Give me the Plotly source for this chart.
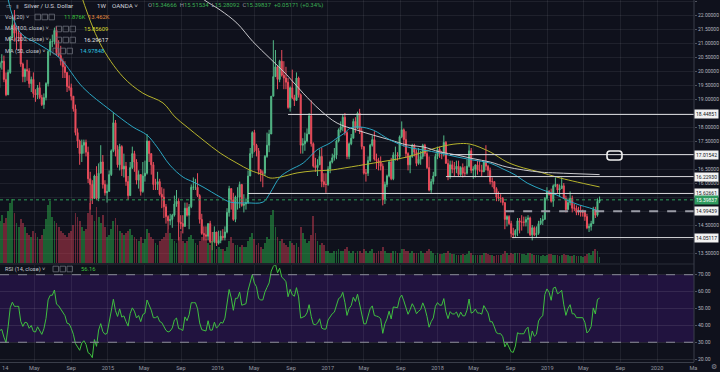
import numpy as np
import pandas as pd
import plotly.graph_objects as go

# ---------------- DATA (weekly XAG/USD) ----------------
first_open = 21.75
# (high, low, close) per week, weeks start Monday
wk2013 = [(22.05,21.10,21.72),(22.05,21.15,21.70),(22.20,21.05,21.95),(22.75,21.80,22.55),(22.70,21.65,21.87),
          (22.20,21.30,21.66),(21.80,20.60,20.82),(20.90,19.75,19.90),(20.05,19.65,19.87),(19.95,18.85,19.48),
          (20.35,19.40,19.90),(20.10,19.05,19.56),(20.05,19.45,19.90),(20.30,19.30,20.12)]
wk2014 = [(20.35,19.40,20.30),(20.60,20.05,20.35),(20.55,19.60,19.70),(19.95,19.10,19.15),
          (20.05,19.15,19.95),(21.25,19.90,21.20),(21.95,21.20,21.65),(22.18,21.05,21.35),
          (21.55,20.75,21.35),(21.60,21.05,21.35),(21.35,20.15,20.25),(20.30,19.60,19.80),(20.10,19.60,20.05),
          (20.40,19.65,20.00),(20.10,19.40,19.55),(19.80,19.25,19.70),(19.95,19.05,19.20),
          (19.35,18.90,19.15),(19.50,19.00,19.40),(19.60,19.00,19.05),(19.15,18.75,18.80),
          (19.20,18.65,19.05),(19.60,18.95,19.55),(20.75,19.45,20.70),(21.15,20.55,21.05),(21.30,20.85,21.05),
          (21.55,20.95,21.45),(21.60,20.55,20.65),(21.10,20.50,20.55),(20.90,20.20,20.35),
          (20.45,19.75,20.15),(20.35,19.75,19.95),(19.95,19.25,19.45),(19.85,19.30,19.40),
          (19.55,18.95,19.10),(19.10,18.55,18.65),(18.80,17.70,17.80),(17.95,17.25,17.50),(17.55,16.65,17.05),
          (17.55,16.75,17.35),(17.55,17.05,17.45),(17.55,16.95,17.10),(17.30,16.00,16.15),
          (16.40,15.05,15.95),(16.10,15.25,15.45),(16.30,15.45,16.25),(16.60,15.40,15.45),
          (16.70,15.35,16.35),(17.35,16.35,16.75),(17.00,15.80,15.95),(16.10,15.55,15.65),(15.95,15.30,15.70)]
wk2015 = [(16.45,15.70,16.30),(17.20,16.25,17.15),(18.50,17.10,18.15),(18.25,16.95,17.20),
          (17.35,16.55,16.65),(17.40,16.45,17.30),(17.35,16.25,16.50),(17.05,16.20,16.60),
          (16.75,15.90,16.05),(16.25,15.40,15.55),(16.75,15.55,16.55),(17.30,16.50,17.05),(17.15,16.40,16.75),
          (16.85,15.95,16.10),(16.45,15.80,16.30),(16.25,15.55,15.70),(16.75,15.65,16.25),
          (16.80,16.05,16.35),(17.75,16.30,17.50),(17.50,16.75,17.05),(17.05,16.30,16.65),
          (16.75,15.75,15.95),(16.15,15.75,15.95),(16.40,15.75,16.05),(16.15,15.55,15.60),(15.85,15.10,15.50),
          (15.80,14.75,15.15),(15.25,14.55,14.80),(14.85,14.35,14.65),(14.90,14.50,14.70),
          (14.90,14.40,14.85),(15.55,14.80,15.25),(15.75,15.15,15.35),(15.45,13.95,14.60),(14.85,14.35,14.55),
          (14.85,14.20,14.45),(15.30,14.45,15.10),(15.30,14.80,14.85),(15.25,14.35,15.15),
          (15.95,15.10,15.85),(16.20,15.75,15.85),(16.15,15.75,15.85),(16.35,15.50,15.55),
          (15.60,14.55,14.70),(14.90,14.15,14.20),(14.45,13.95,14.15),(14.45,13.95,14.10),(14.55,13.95,14.55),
          (14.65,13.85,13.90),(14.25,13.60,13.90),(14.45,13.85,14.25),(14.20,13.75,13.85)]
wk2016 = [(14.30,13.80,13.95),(14.30,13.85,14.10),(14.35,13.95,14.05),(14.45,13.95,14.25),
          (15.10,14.20,14.95),(15.90,14.80,15.80),(15.75,15.05,15.40),(15.65,14.65,14.70),(15.55,14.60,15.50),
          (15.85,15.05,15.50),(16.05,15.10,15.95),(15.95,15.15,15.20),(15.60,14.95,15.25),
          (15.45,15.05,15.30),(16.45,15.25,16.25),(17.25,16.25,17.05),(17.85,16.90,17.80),
          (17.90,17.10,17.35),(17.40,16.95,17.15),(17.25,16.30,16.45),(16.50,16.05,16.35),(16.45,15.85,16.35),
          (17.00,16.25,16.95),(17.80,16.90,17.35),(17.90,17.10,17.75),(19.10,17.75,19.10),
          (21.10,19.10,19.80),(20.75,19.85,20.15),(20.20,19.35,19.70),(20.40,19.60,20.35),
          (20.75,19.80,19.85),(20.35,19.35,19.75),(20.15,19.35,19.60),(19.75,18.65,18.70),(19.45,18.55,19.40),
          (20.05,19.00,19.05),(19.15,18.75,18.95),(19.95,19.00,19.75),(19.80,19.05,19.15),
          (19.20,17.05,17.35),(17.60,17.05,17.40),(17.80,17.15,17.50),(17.95,17.45,17.75),(18.50,17.75,18.40),
          (18.95,17.30,17.40),(17.45,16.55,16.60),(16.90,16.40,16.55),(16.85,16.25,16.65),
          (17.20,16.65,16.95),(17.25,15.85,16.05),(16.35,15.85,15.95),(16.35,15.65,15.95)]
wk2017 = [(16.60,15.90,16.50),(16.80,16.35,16.75),(17.05,16.70,16.90),(17.25,16.80,17.00),(17.55,16.85,17.50),
          (17.95,17.45,17.90),(18.20,17.80,18.00),(18.45,17.85,18.35),(18.50,17.70,17.80),
          (17.85,16.85,16.95),(17.45,16.85,17.40),(17.75,17.35,17.60),(18.30,17.60,18.20),
          (18.35,17.80,17.95),(18.55,17.95,18.50),(18.65,17.75,17.85),(18.00,17.20,17.30),
          (17.30,16.30,16.35),(16.50,16.05,16.35),(16.95,16.25,16.80),(17.40,16.75,17.35),(17.70,17.30,17.55),
          (17.85,16.80,16.85),(17.05,16.50,16.80),(16.90,16.45,16.75),(16.95,16.45,16.60),
          (16.70,15.20,15.40),(16.05,15.25,15.95),(16.30,15.85,16.25),(16.80,16.20,16.75),(16.90,16.10,16.15),
          (17.10,16.10,17.00),(17.30,16.80,17.00),(17.10,16.80,16.95),(17.70,16.85,17.65),
          (18.20,17.60,17.90),(17.95,17.30,17.55),(17.85,16.90,17.05),(17.10,16.45,16.65),
          (17.00,16.35,16.95),(17.40,16.90,17.35),(17.40,16.95,17.10),(17.20,16.60,16.70),(17.25,16.65,16.85),
          (17.15,16.65,16.95),(17.40,16.85,17.35),(17.40,16.95,17.05),(17.20,16.50,16.55),
          (16.95,15.70,15.75),(16.15,15.65,16.05),(16.40,15.95,16.25),(17.05,16.25,16.95)]
wk2018 = [(17.30,16.85,17.20),(17.30,16.90,17.05),(17.15,16.85,17.05),(17.70,16.95,17.45),(17.50,16.70,16.70),
          (16.85,16.10,16.25),(16.80,16.15,16.65),(16.80,16.35,16.50),(16.75,16.25,16.50),
          (16.80,16.35,16.60),(16.80,16.25,16.30),(16.60,16.25,16.55),(16.70,16.20,16.35),
          (16.60,16.25,16.35),(16.85,16.30,16.60),(17.35,16.55,17.15),(17.25,16.35,16.45),(16.60,16.15,16.50),
          (16.65,16.20,16.65),(16.80,16.30,16.45),(16.80,16.40,16.45),(16.65,16.25,16.40),
          (16.80,16.40,16.75),(17.35,16.45,16.60),(16.65,16.25,16.45),(16.55,15.95,16.05),
          (16.20,15.85,16.05),(16.05,15.65,15.80),(15.85,15.35,15.50),(15.70,15.35,15.45),(15.60,15.30,15.45),
          (15.50,15.20,15.30),(15.30,14.35,14.70),(14.85,14.45,14.80),(14.85,14.50,14.55),
          (14.65,14.05,14.20),(14.40,14.03,14.15),(14.35,14.05,14.30),(14.75,14.10,14.65),
          (14.75,14.20,14.60),(14.85,14.30,14.60),(14.80,14.45,14.60),(14.80,14.45,14.70),(14.85,14.20,14.75),
          (14.80,14.10,14.15),(14.50,13.95,14.40),(14.45,14.10,14.15),(14.45,14.05,14.20),
          (14.65,14.15,14.55),(14.75,14.50,14.65),(14.85,14.50,14.70),(15.50,14.70,15.45),(15.85,15.45,15.70)]
wk2019 = [(15.75,15.55,15.60),(15.80,15.30,15.35),(15.95,15.15,15.90),(16.20,15.85,15.95),
          (15.95,15.65,15.75),(15.95,15.50,15.80),(16.20,15.80,15.90),(16.00,15.45,15.45),
          (15.55,14.95,15.05),(15.45,15.05,15.30),(15.70,15.20,15.45),(15.55,14.95,15.10),
          (15.25,15.00,15.10),(15.20,14.85,14.95),(15.15,14.85,14.95),(15.20,14.80,14.95),(15.05,14.80,14.95),
          (14.95,14.65,14.80),(14.90,14.35,14.40),(14.55,14.25,14.45),(14.65,14.30,14.55),
          (15.15,14.55,15.05),(15.15,14.75,14.85),(15.45,14.80,15.3467),(15.5153,15.2809,15.3984)]

# weekly volume (K)
vol2013 = [40,38,42,45,40,38,44,46,40,42,38,40,28,36]
vol2014 = [42,48,40,45,52,60,64,50,40,36,44,40,36,
           30,28,26,32,30,26,24,28,34,44,58,62,46,
           42,40,36,32,30,28,26,30,32,38,50,46,42,
           36,32,34,50,60,48,42,56,46,40,48,36,26]
vol2015 = [28,34,42,45,38,32,30,28,30,32,34,28,26,
           24,22,26,20,24,34,30,26,24,20,18,22,24,
           26,30,34,30,24,22,20,26,32,22,20,22,26,
           28,24,20,18,22,26,30,24,20,18,22,20,14]
vol2016 = [16,14,14,12,16,22,26,20,18,18,16,18,16,
           16,22,26,30,24,18,20,16,14,20,26,24,48,
           53,36,26,22,24,20,18,16,22,20,18,20,16,
           36,30,24,20,22,28,47,30,22,18,20,18,12]
vol2017 = [12,10,10,12,12,14,12,12,14,16,12,10,12,
           10,12,12,10,14,12,10,12,14,10,10,12,12,
           16,12,10,10,10,12,12,10,10,14,14,12,12,
           10,12,10,10,10,12,10,10,12,14,12,10,8]
vol2018 = [10,9,9,10,10,12,10,9,9,8,8,8,9,
           8,9,12,10,8,8,8,8,8,10,10,9,8,
           8,7,8,8,8,9,12,10,8,10,9,10,10,
           10,9,9,8,10,10,9,8,8,8,7,8,7,8]
vol2019 = [9,9,8,8,8,7,8,9,8,8,7,7,8,
           7,7,7,6,7,9,10,8,12,14,12,6]

# moving averages (date, value)
ma50_dates = ['2014-02-01','2014-03-14','2014-05-20','2014-07-25','2014-10-10','2015-01-08','2015-03-25',
              '2015-05-11','2015-06-13','2015-07-26','2015-09-08','2015-10-11','2015-11-13','2016-01-09',
              '2016-02-11','2016-04-07','2016-05-31','2016-06-23','2016-07-26','2016-08-28','2016-10-11',
              '2016-11-26','2017-01-09','2017-02-01','2017-02-27','2017-03-16','2017-04-18','2017-06-01',
              '2017-07-27','2017-09-22','2017-11-14','2018-01-09','2018-03-07','2018-04-29','2018-06-25',
              '2018-08-07','2018-09-16','2018-10-26','2018-12-18','2019-02-02','2019-03-07','2019-04-19',
              '2019-05-22','2019-06-24']
ma50_vals = [22.65,21.39,20.93,20.46,19.41,18.61,18.00,17.71,17.29,16.64,16.21,16.04,15.86,15.50,
             15.32,15.29,15.32,15.64,16.21,16.46,16.71,17.18,17.43,17.61,17.79,17.96,18.00,17.89,
             17.54,17.29,17.18,17.07,16.93,16.82,16.71,16.50,16.29,16.00,15.75,15.57,15.39,15.21,
             15.11,14.98]
ma100_dates = ['2014-09-25','2014-12-05','2015-02-20','2015-04-27','2015-07-03','2015-08-12','2015-09-21',
               '2015-11-13','2016-01-09','2016-03-05','2016-04-17','2016-05-31','2016-06-23','2016-07-26',
               '2016-09-21','2016-11-13','2017-01-09','2017-02-27','2017-06-01','2017-09-22','2018-01-09',
               '2018-03-07','2018-04-19','2018-06-25','2018-08-20','2018-10-13','2018-12-08','2019-02-02',
               '2019-03-27','2019-06-24']
ma100_vals = [23.00,21.00,19.79,19.21,18.86,18.36,18.00,17.54,17.07,16.71,16.46,16.29,16.18,16.21,
              16.36,16.43,16.46,16.54,16.71,16.93,17.29,17.40,17.39,17.11,16.75,16.54,16.39,16.21,
              16.07,15.86]
ma200_dates = ['2015-10-20','2015-11-17','2016-01-09','2016-03-05','2016-04-27','2016-06-23','2016-08-18',
               '2016-10-11','2016-12-06','2017-02-01','2017-04-08','2017-06-01','2017-07-27','2017-09-22',
               '2017-11-14','2018-01-09','2018-03-07','2018-04-29','2018-06-25','2018-08-20','2018-12-08',
               '2019-02-02','2019-06-24']
ma200_vals = [22.80,22.54,22.18,21.71,21.05,20.45,19.86,19.21,18.61,18.14,17.89,17.71,17.54,17.36,
              17.29,17.11,17.00,16.87,16.75,16.57,16.39,16.36,16.30]

# user-drawn horizontal levels (start date, price)
level_lines = [('2016-08-22', 18.44851), ('2018-02-12', 17.01542), ('2018-01-29', 16.22930),
               ('2016-04-11', 15.62661), ('2018-09-06', 14.05117)]
dashed_level = ('2018-08-14', 14.99439)
last_price = 15.39837

month_ticks = ['2014-05-01','2014-09-01','2015-01-01','2015-05-01','2015-09-01','2016-01-01','2016-05-01',
               '2016-09-01','2017-01-01','2017-05-01','2017-09-01','2018-01-01','2018-05-01','2018-09-01',
               '2019-01-01','2019-05-01','2019-09-01','2020-01-01','2020-05-01']
month_labels = ['May','Sep','2015','May','Sep','2016','May','Sep','2017','May','Sep','2018','May','Sep',
                '2019','May','Sep','2020','Ma']
price_ticks = [13.5,14.0,14.5,15.0,15.5,16.0,16.5,17.0,17.5,18.0,18.5,19.0,19.5,20.0,20.5,21.0,21.5,22.0,22.5]
price_hidden = [14.0,15.0,15.5,17.0,18.5]
rsi_ticks = [20,30,40,50,60,70]

# ---------------- BUILD ----------------
weeks = wk2013 + wk2014 + wk2015 + wk2016 + wk2017 + wk2018 + wk2019
vols = vol2013 + vol2014 + vol2015 + vol2016 + vol2017 + vol2018 + vol2019
dates = pd.date_range('2013-09-30', periods=len(weeks), freq='7D')
highs = [w[0] for w in weeks]
lows = [w[1] for w in weeks]
closes = [w[2] for w in weeks]
opens = [first_open] + closes[:-1]

# RSI(14, close), Wilder
c = np.array(closes)
d = np.diff(c)
up = np.clip(d, 0, None)
dn = np.clip(-d, 0, None)
n = 14
rsi = np.full(len(c), np.nan)
ag, al = up[:n].mean(), dn[:n].mean()
rsi[n] = 100 - 100 / (1 + ag / al)
for i in range(n, len(d)):
    ag = (ag * (n - 1) + up[i]) / n
    al = (al * (n - 1) + dn[i]) / n
    rsi[i + 1] = 100 - 100 / (1 + ag / al)

W, H = 720, 372
MR, MB = 26, 10
PW, PH = W - MR, H - MB


def px(x):
    return x / PW


def py(y):
    return 1 - y / PH


BG = '#0f111c'
UP = '#53b987'
DN = '#eb4d5c'
GRID = 'rgba(255,255,255,0.07)'
FONT = 'Roboto, Arial, sans-serif'
XR = ['2014-01-07', '2020-05-03']

fig = go.Figure()

vcol = ['rgba(40,160,70,0.55)' if cl >= op else 'rgba(200,60,80,0.50)' for op, cl in zip(opens, closes)]
fig.add_trace(go.Bar(x=dates, y=vols, marker=dict(color=vcol, line=dict(width=0)),
                     width=7 * 86400000 * 0.85, yaxis='y2', xaxis='x', hoverinfo='skip'))

fig.add_trace(go.Candlestick(x=dates, open=opens, high=highs, low=lows, close=closes,
                             increasing=dict(line=dict(color=UP, width=1), fillcolor=UP),
                             decreasing=dict(line=dict(color=DN, width=1), fillcolor=DN),
                             whiskerwidth=0, xaxis='x', yaxis='y'))

fig.add_trace(go.Scatter(x=pd.to_datetime(ma100_dates), y=ma100_vals, mode='lines',
                         line=dict(color='#b6b32c', width=1, shape='spline'), xaxis='x', yaxis='y'))
fig.add_trace(go.Scatter(x=pd.to_datetime(ma200_dates), y=ma200_vals, mode='lines',
                         line=dict(color='#c8c8cc', width=1, shape='spline'), xaxis='x', yaxis='y'))
fig.add_trace(go.Scatter(x=pd.to_datetime(ma50_dates), y=ma50_vals, mode='lines',
                         line=dict(color='#2aa6c2', width=1, shape='spline'), xaxis='x', yaxis='y'))

fig.add_trace(go.Scatter(x=dates, y=rsi, mode='lines', line=dict(color='#3fbf3f', width=1),
                         xaxis='x', yaxis='y3'))

shapes = []
# RSI band
shapes.append(dict(type='rect', xref='paper', yref='y3', x0=0, x1=1, y0=30, y1=70,
                   fillcolor='#21133f', line=dict(width=0), layer='below'))
for lv in (70, 30):
    shapes.append(dict(type='line', xref='paper', yref='y3', x0=0, x1=1, y0=lv, y1=lv,
                       line=dict(color='#8a8c99', width=1, dash='dash')))
# user levels
for sd, pv in level_lines:
    shapes.append(dict(type='line', xref='x', yref='y', x0=sd, x1=XR[1], y0=pv, y1=pv,
                       line=dict(color='#d8d8dc', width=1)))
shapes.append(dict(type='line', xref='x', yref='y', x0=dashed_level[0], x1=XR[1],
                   y0=dashed_level[1], y1=dashed_level[1],
                   line=dict(color='#9a9ca6', width=2, dash='dash')))
shapes.append(dict(type='line', xref='paper', yref='y', x0=0, x1=1, y0=last_price, y1=last_price,
                   line=dict(color='#2f9e5a', width=1, dash='dot')))
# pane separators / borders
shapes.append(dict(type='line', xref='paper', yref='paper', x0=0, x1=1, y0=py(264), y1=py(264),
                   line=dict(color='#2a2e39', width=1)))
shapes.append(dict(type='line', xref='paper', yref='paper', x0=1, x1=1, y0=0, y1=1,
                   line=dict(color='#3a3e4a', width=1)))
# rounded note box
x0, x1, y0, y1, r = 607, 622, 151, 160, 3
pts = f"M {px(x0+r)},{py(y0)} L {px(x1-r)},{py(y0)} Q {px(x1)},{py(y0)} {px(x1)},{py(y0+r)} " \
      f"L {px(x1)},{py(y1-r)} Q {px(x1)},{py(y1)} {px(x1-r)},{py(y1)} L {px(x0+r)},{py(y1)} " \
      f"Q {px(x0)},{py(y1)} {px(x0)},{py(y1-r)} L {px(x0)},{py(y0+r)} Q {px(x0)},{py(y0)} {px(x0+r)},{py(y0)} Z"
shapes.append(dict(type='path', xref='paper', yref='paper', path=pts, line=dict(color='#f0f0f0', width=1.6)))
# legend icon boxes
for (xs, yy) in [(35, 17), (56, 29), (56, 40), (53, 51), (53, 269)]:
    for k in range(3):
        xa = xs + k * 7
        shapes.append(dict(type='rect', xref='paper', yref='paper', x0=px(xa), x1=px(xa + 5.5),
                           y0=py(yy - 2.8), y1=py(yy + 2.8), line=dict(color='#6b6e79', width=0.8)))

ann = []


def txt(x, y, s, color='#c5c8d0', size=5.6, xanchor='left', bg=None, yref='paper', xref='paper'):
    d = dict(x=x, y=y, xref=xref, yref=yref, text=s, showarrow=False, xanchor=xanchor, yanchor='middle',
             font=dict(family=FONT, size=size, color=color))
    if bg:
        d.update(bgcolor=bg, borderpad=1)
    ann.append(d)


txt(px(4), py(6), '▭', '#9598a1', 6)
txt(px(14), py(6), '▮', '#6b6e79', 5)
txt(px(22), py(6), 'Silver / U.S. Dollar', '#d1d4dc', 6.2)
txt(px(95), py(6), '1W', '#d1d4dc', 6.2)
txt(px(110), py(6), 'OANDA ˅', '#d1d4dc', 6.2)
G = '#3cb054'
txt(px(146), py(6),
    f"<span style='color:#9598a1'>O</span>15.34666  <span style='color:#9598a1'>H</span>15.51534  "
    f"<span style='color:#9598a1'>L</span>15.28092  <span style='color:#9598a1'>C</span>15.39837  "
    f"+0.05171 (+0.34%)", G, 5.9)
txt(px(3), py(17), 'Vol (20) ˅', '#c5c8d0')
txt(px(62), py(17), '11.876K', '#3cc13c', 5.8)
txt(px(86), py(17), '13.462K', '#e58a3c', 5.8)
txt(px(3), py(29), 'MA (100, close) ˅', '#c5c8d0')
txt(px(82), py(29), '15.85609', '#d9d62e', 5.8)
txt(px(3), py(40), 'MA (200, close) ˅', '#c5c8d0')
txt(px(82), py(40), '16.29617', '#e8e8ea', 5.8)
txt(px(3), py(51), 'MA (50, close) ˅', '#c5c8d0')
txt(px(78), py(51), '14.97848', '#2ec4e0', 5.8)
txt(px(3), py(269), 'RSI (14, close) ˅', '#c5c8d0')
txt(px(79), py(269), '56.16', '#3cc13c', 5.8)
txt(px(0), py(368), '14', '#9598a1', 5.6)
txt(1 + 20 / PW, py(367), '⚙', '#8a8c99', 6.5, xanchor='center')

# price-scale labels for levels
for _, pv in level_lines + [dashed_level]:
    txt(1, pv, f'{pv:.5f}', '#131722', 5.0, bg='#f2f2f2', yref='y')
txt(1, last_price, f'{last_price:.5f}', '#ffffff', 5.0, bg='#2e9a5e', yref='y')

fig.update_layout(
    width=W, height=H, template='none',
    margin=dict(l=0, r=MR, t=0, b=MB, pad=0),
    paper_bgcolor=BG, plot_bgcolor=BG, showlegend=False,
    shapes=shapes, annotations=ann, bargap=0,
    font=dict(family=FONT, size=5.6, color='#9598a1'),
    xaxis=dict(type='date', range=XR, anchor='y3', domain=[0, 1],
               tickvals=month_ticks, ticktext=month_labels, showgrid=True, gridcolor=GRID, gridwidth=1,
               tickfont=dict(size=5.6, color='#9598a1', family=FONT), ticks='', ticklen=0,
               showline=True, linecolor='#3a3e4a', linewidth=1, zeroline=False,
               rangeslider=dict(visible=False), automargin=False, fixedrange=True),
    yaxis=dict(domain=[py(263), 1], range=[13.143, 22.536], side='right', anchor='x',
               tickvals=price_ticks,
               ticktext=['' if t in price_hidden else f'{t:.5f}' for t in price_ticks],
               showgrid=True, gridcolor=GRID, zeroline=False, showline=False,
               ticks='outside', ticklen=2, tickcolor='#50535e',
               tickfont=dict(size=5.0, color='#b2b5be', family=FONT), automargin=False),
    yaxis2=dict(overlaying='y', range=[0, 263], visible=False, fixedrange=True),
    yaxis3=dict(domain=[0, py(265)], range=[18.3, 75.75], side='right', anchor='x',
                tickvals=rsi_ticks, ticktext=[f'{t:.2f}' for t in rsi_ticks],
                showgrid=True, gridcolor='rgba(255,255,255,0.09)', zeroline=False, showline=False,
                ticks='outside', ticklen=2, tickcolor='#50535e',
                tickfont=dict(size=5.0, color='#b2b5be', family=FONT), automargin=False),
)

fig.write_html('out.html', config={'displayModeBar': False},
               post_script="document.body.style.margin='0';document.body.style.overflow='hidden';")
